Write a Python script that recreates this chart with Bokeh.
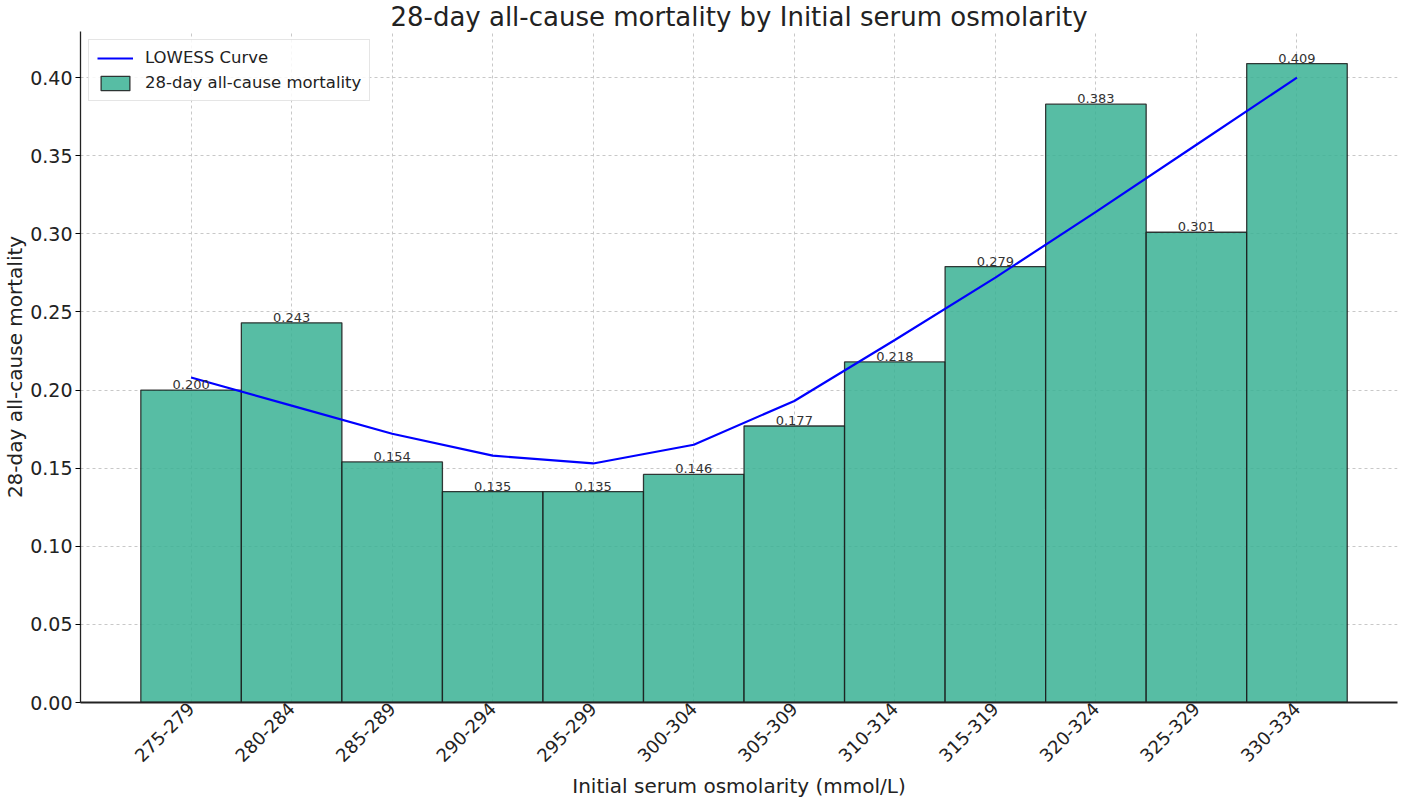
from bokeh.plotting import figure
from bokeh.models import (ColumnDataSource, Range1d, FixedTicker, PrintfTickFormatter,
                          Legend, LegendItem)
from bokeh.core.properties import value
from bokeh.embed import file_html
from bokeh.resources import INLINE
import math

categories = ["275-279", "280-284", "285-289", "290-294", "295-299", "300-304",
              "305-309", "310-314", "315-319", "320-324", "325-329", "330-334"]
mortality = [0.200, 0.243, 0.154, 0.135, 0.135, 0.146, 0.177, 0.218, 0.279, 0.383, 0.301, 0.409]
lowess = [0.208, 0.190, 0.172, 0.158, 0.153, 0.165, 0.193, 0.232, 0.272, 0.314, 0.357, 0.400]
y_ticks = [0.00, 0.05, 0.10, 0.15, 0.20, 0.25, 0.30, 0.35, 0.40]

FONT = "DejaVu Sans"
idx = list(range(len(categories)))
src = ColumnDataSource(dict(x=idx, cat=categories, m=mortality, lw=lowess,
                            lab=["%.3f" % v for v in mortality]))

p = figure(width=1400, height=802, output_backend="svg", toolbar_location=None,
           x_range=Range1d(-1.1, 12.0), y_range=Range1d(0, 0.4295),
           min_border_left=72, min_border_right=3, min_border_bottom=100, min_border_top=0)

p.title.text = "28-day all-cause mortality by Initial serum osmolarity"
p.title.text_font = FONT
p.title.text_font_size = "26px"
p.title.text_font_style = "normal"
p.title.text_color = "#222222"
p.title.align = "center"
p.title.standoff = -1
p.title.offset = 0

p.background_fill_color = "white"
p.border_fill_color = "white"
p.outline_line_color = None

bars = p.vbar(x="x", top="m", width=1.0, bottom=0, source=src,
              fill_color="#39b194", fill_alpha=0.85,
              line_color="#1a1a1a", line_width=1.3, line_alpha=0.85)
line = p.line(x="x", y="lw", source=src, line_color="#0000ff", line_width=2.2)

p.text(x="x", y="m", text="lab", source=src, text_align="center", text_baseline="bottom",
       y_offset=-1, text_font=value(FONT), text_font_size="13px", text_color="#333333")

# grids
for g in (p.xgrid, p.ygrid):
    g.grid_line_color = "#c8c8c8"
    g.grid_line_dash = "3 3"
    g.grid_line_width = 1
p.xgrid.ticker = FixedTicker(ticks=idx)
p.ygrid.ticker = FixedTicker(ticks=y_ticks)

# x axis
xa = p.xaxis[0]
xa.ticker = FixedTicker(ticks=idx)
xa.major_label_overrides = {i: c for i, c in zip(idx, categories)}
xa.major_label_orientation = math.pi / 4
xa.major_label_text_font = FONT
xa.major_label_text_font_size = "18px"
xa.major_label_text_color = "#222222"
xa.major_label_standoff = 3
xa.major_tick_out = 0
xa.major_tick_in = 0
xa.minor_tick_out = 0
xa.minor_tick_in = 0
xa.axis_line_color = "#222222"
xa.axis_line_width = 2
xa.axis_label = "Initial serum osmolarity (mmol/L)"
xa.axis_label_text_font = FONT
xa.axis_label_text_font_size = "20px"
xa.axis_label_text_font_style = "normal"
xa.axis_label_text_color = "#222222"
xa.axis_label_standoff = 3

# y axis
ya = p.yaxis[0]
ya.ticker = FixedTicker(ticks=y_ticks)
ya.formatter = PrintfTickFormatter(format="%.2f")
ya.major_label_text_font = FONT
ya.major_label_text_font_size = "19px"
ya.major_label_text_color = "#222222"
ya.major_label_standoff = 3
ya.major_tick_out = 5
ya.major_tick_in = 0
ya.minor_tick_out = 0
ya.minor_tick_in = 0
ya.axis_line_color = "#222222"
ya.axis_line_width = 1.3
ya.axis_label = "28-day all-cause mortality"
ya.axis_label_text_font = FONT
ya.axis_label_text_font_size = "20px"
ya.axis_label_text_font_style = "normal"
ya.axis_label_text_color = "#222222"
ya.axis_label_standoff = 0

legend = Legend(items=[LegendItem(label="LOWESS Curve", renderers=[line]),
                       LegendItem(label="28-day all-cause mortality", renderers=[bars])],
                location="top_left")
legend.margin = 8
legend.padding = 8
legend.spacing = 6
legend.label_text_font = FONT
legend.label_text_font_size = "16.5px"
legend.label_text_color = "#222222"
legend.glyph_width = 36
legend.glyph_height = 18
legend.label_standoff = 12
legend.border_line_color = "#cccccc"
legend.border_line_width = 1
legend.background_fill_alpha = 0.85
p.add_layout(legend)

open("out.html", "w").write(file_html(p, INLINE))
